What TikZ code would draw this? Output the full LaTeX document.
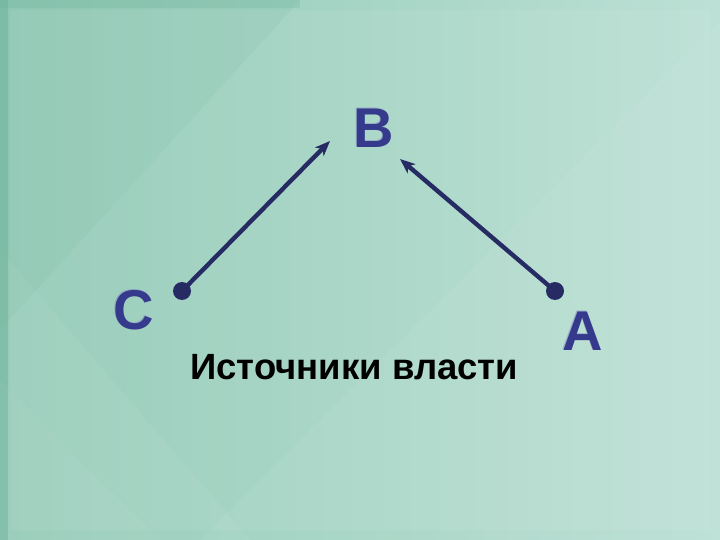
\documentclass[tikz,border=0pt]{standalone}
\usepackage{fontspec}
\setmainfont{Liberation Sans}
\usetikzlibrary{arrows.meta}
\definecolor{bgL}{HTML}{94CBB7}
\definecolor{bgM}{HTML}{A6D5C5}
\definecolor{bgR}{HTML}{BCE0D5}
\definecolor{letter}{HTML}{363A8C}
\definecolor{halo}{HTML}{8C94C4}
\definecolor{navy}{HTML}{262C63}
\definecolor{strip}{HTML}{6DB39B}
\tikzset{
  letterlbl/.style={font=\fontsize{56}{56}\selectfont\bfseries, text=letter, inner sep=0pt},
  halolbl/.style={font=\fontsize{56}{56}\selectfont\bfseries, text=halo, text opacity=0.6, inner sep=0pt},
  dotnode/.style={circle, fill=navy, inner sep=0pt, minimum size=18pt},
  conn/.style={navy, line width=4.4pt, -{Stealth[length=15pt,width=12pt,inset=4pt]}},
  caption/.style={font=\fontsize{36.5}{36.5}\selectfont\bfseries, text=black, inner sep=0pt}
}
\begin{document}
\begin{tikzpicture}[x=1pt,y=-1pt]
\useasboundingbox (0,0) rectangle (720,540);
% background
\shade[left color=bgL, right color=bgR, middle color=bgM] (0,0) rectangle (720,540);
\fill[white, opacity=0.05] (200,540) -- (720,20) -- (720,540) -- cycle;
\fill[white, opacity=0.05] (0,250) -- (250,540) -- (0,540) -- cycle;
\fill[white, opacity=0.04] (0,380) -- (160,540) -- (0,540) -- cycle;
\fill[strip!70!bgL, opacity=0.18] (0,0) -- (300,0) -- (0,330) -- cycle;
\fill[white, opacity=0.06] (10,10) rectangle (710,530);
\fill[strip, opacity=0.5] (0,0) rectangle (8,540);
\fill[strip, opacity=0.25] (0,0) rectangle (300,8);
% letters
\node[halolbl] at (373,127) {B};
\node[letterlbl] (B) at (374,128) {B};
\node[halolbl] at (133,309) {C};
\node[letterlbl] (C) at (134,310) {C};
\node[halolbl] at (582,330) {A};
\node[letterlbl] (A) at (583,331) {A};
% dots and arrows
\node[dotnode] (dC) at (182,291) {};
\node[dotnode] (dA) at (555,291) {};
\coordinate (tipC) at (330,141);
\coordinate (tipA) at (400,159);
\draw[conn] (dC.center) -- (tipC);
\draw[conn] (dA.center) -- (tipA);
% caption
\node[caption, anchor=base west] (cap) at (190,379) {Источники власти};
\end{tikzpicture}
\end{document}
